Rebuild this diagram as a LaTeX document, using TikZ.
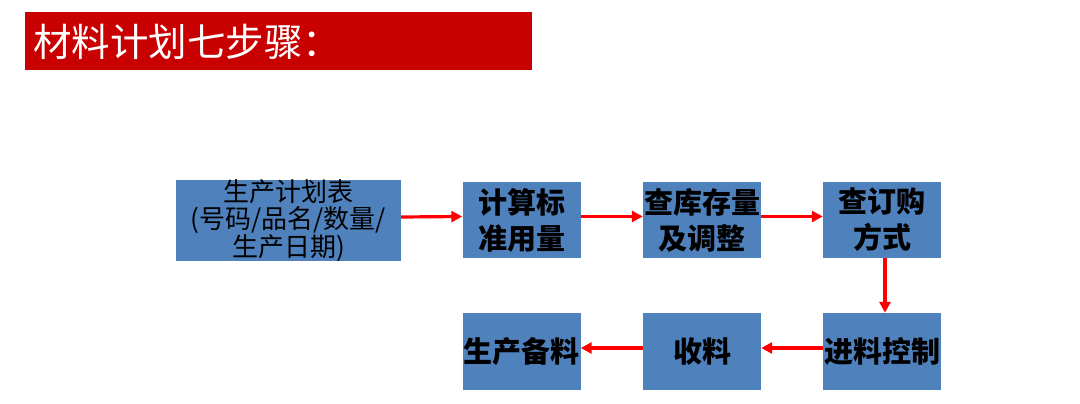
\documentclass[tikz,border=0pt]{standalone}
\usepackage{fontspec}
\newfontfamily\cjk{Noto Sans CJK SC}
\usetikzlibrary{arrows.meta}
\definecolor{banner}{HTML}{C80000}
\definecolor{stepfill}{HTML}{4F81BD}
\definecolor{flow}{HTML}{FF0000}

\begin{document}
\begin{tikzpicture}[x=1pt,y=-1pt,
  stepbox/.style={fill=stepfill,minimum width=118pt,minimum height=76pt,inner sep=0pt,align=center,font=\cjk\bfseries\fontsize{29}{36}\selectfont},
  flowline/.style={flow,line width=3.2pt,-{Triangle[length=11pt,width=11pt]}},
]
  \useasboundingbox (0,0) rectangle (1080,404);

  % title bar
  \node[fill=banner,minimum width=507pt,minimum height=58pt,inner sep=0pt] (bar) at (278.5,41) {};
  \node[anchor=west,text=white,inner sep=0pt,font=\cjk\fontsize{38.5}{40}\selectfont] (title) at (33,42) {材料计划七步骤：};

  % first row
  \node[stepbox,minimum width=225pt,font=\cjk\fontsize{26}{27.5}\selectfont] (plan) at (288.5,220.5) {生产计划表\\(号码/品名/数量/\\生产日期)};
  \node[stepbox] (calc) at (521.5,220) {计算标\\准用量};
  \node[stepbox] (stock) at (702,220) {查库存量\\及调整};
  \node[stepbox] (order) at (882,220) {查订购\\方式};

  % second row
  \node[stepbox,minimum height=77pt] (prep) at (521.5,351.5) {生产备料};
  \node[stepbox,minimum height=77pt] (recv) at (702,351.5) {收料};
  \node[stepbox,minimum height=77pt] (incoming) at (882,351.5) {进料控制};

  \draw[flowline] ([yshift=3.5pt]plan.east) -- ([yshift=3.5pt]calc.west);
  \draw[flowline] ([yshift=3.5pt]calc.east) -- ([yshift=3.5pt]stock.west);
  \draw[flowline] ([yshift=3.5pt]stock.east) -- ([yshift=3.5pt]order.west);
  \draw[flowline] ([xshift=3pt]order.south) -- ([xshift=3pt]incoming.north);
  \draw[flowline] ([yshift=3.5pt]incoming.west) -- ([yshift=3.5pt]recv.east);
  \draw[flowline] ([yshift=3.5pt]recv.west) -- ([yshift=3.5pt]prep.east);
\end{tikzpicture}
\end{document}
